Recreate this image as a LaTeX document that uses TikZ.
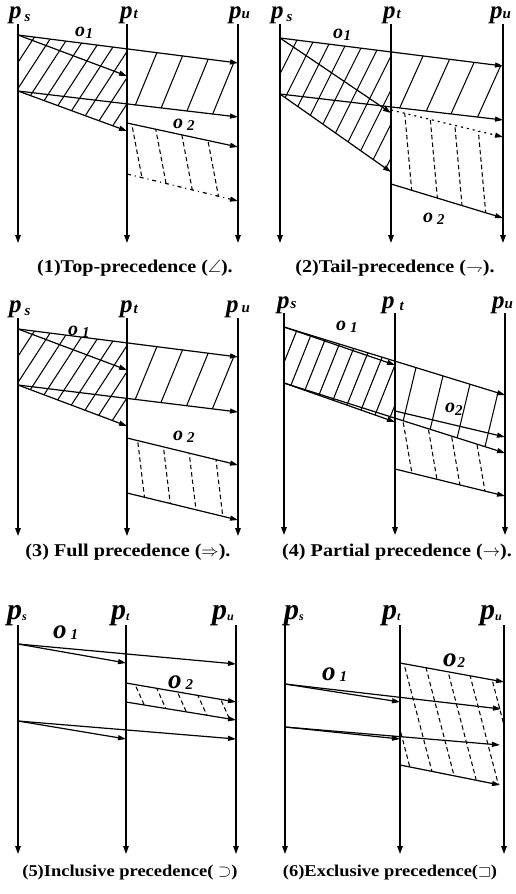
\documentclass[tikz,border=0pt]{standalone}
\usepackage{amssymb}
\usepackage{fontspec}
\setmainfont{Liberation Serif}
\newfontfamily\capfont[FakeStretch=1.12]{Liberation Serif}
\usetikzlibrary{arrows.meta}
\tikzset{
  proc/.style={line width=1.4pt,-{Triangle[length=8pt,width=5.5pt]}},
  msg/.style={line width=1.2pt,-{Triangle[length=8pt,width=5pt]}},
  hsolid/.style={line width=1.05pt},
  hdash/.style={line width=1.05pt,dash pattern=on 4.5pt off 3pt},
  dotmsg/.style={msg,dash pattern=on 2pt off 4pt},
  dashdotmsg/.style={msg,dash pattern=on 4pt off 4pt on 1pt off 4pt},
  lab/.style={inner sep=0pt,anchor=base west,font=\bfseries\itshape},
  capt/.style={inner sep=0pt,anchor=base,font=\capfont\bfseries\fontsize{18}{18}\selectfont},
  captb/.style={capt,font=\capfont\bfseries\fontsize{16.5}{16.5}\selectfont},
}
% p label: size, subscript, gap, drop
\newcommand\plab[4]{{\fontsize{#1}{#1}\selectfont p}\hspace{#3}\raisebox{#4}{\fontsize{15}{15}\selectfont #2}}
% o label: size, subscript, gap, drop
\newcommand\olab[4]{{\fontsize{#1}{#1}\selectfont o}\hspace{#3}\raisebox{#4}{\fontsize{15}{15}\selectfont #2}}
% hatch: clip path, ytop, ybot, dx per dy, list of x at ytop, style
\newcommand\hatch[6]{\begin{scope}\clip #1;\foreach \hx in {#5}{\draw[#6] (\hx,#2) -- ({\hx+(#4)*(#3-(#2))},#3);}\end{scope}}
\begin{document}
\begin{tikzpicture}[x=1pt,y=-1pt]
\useasboundingbox (0,0) rectangle (516,894);
% ================= Panel 1 =================
\coordinate (a-s0) at (18,24);  \coordinate (a-s1) at (18,243);
\coordinate (a-t0) at (127,24); \coordinate (a-t1) at (127,243);
\coordinate (a-u0) at (238,24); \coordinate (a-u1) at (238,243);
\coordinate (a-m1) at (18,35);   \coordinate (a-m1e) at (238,63);
\coordinate (a-m2e) at (127,76);
\coordinate (a-m3) at (18,91);   \coordinate (a-m3e) at (238,117);
\coordinate (a-m4e) at (127,131);
\coordinate (a-m5) at (127,123); \coordinate (a-m5e) at (238,147);
\coordinate (a-m6) at (127,174); \coordinate (a-m6e) at (238,201);
\hatch{(18,35)--(127,48.9)--(127,131)--(18,91)--cycle}{30}{135}{-0.65}{22,39,...,220}{hsolid}
\hatch{(127,48.9)--(238,63)--(238,117)--(127,104.4)--cycle}{45}{120}{-0.41}{160,187,214,241}{hsolid}
\hatch{(127,123)--(238,147)--(238,201)--(127,174)--cycle}{120}{205}{0.19}{131,154,179,204}{hdash}
\draw[proc] (a-s0) -- (a-s1);
\draw[proc] (a-t0) -- (a-t1);
\draw[proc] (a-u0) -- (a-u1);
\draw[msg] (a-m1) -- (a-m1e);
\draw[msg] (a-m1) -- (a-m2e);
\draw[msg] (a-m3) -- (a-m3e);
\draw[msg] (a-m3) -- (a-m4e);
\draw[msg] (a-m5) -- (a-m5e);
\draw[dashdotmsg] (a-m6) -- (a-m6e);
\node[lab] (a-ps) at (9,18) {\plab{25}{s}{3pt}{-3pt}};
\node[lab] (a-pt) at (120,18) {\plab{25}{t}{1pt}{-1pt}};
\node[lab] (a-pu) at (229,18) {\plab{25}{u}{0pt}{0pt}};
\node[lab] (a-o1) at (75,36) {\olab{20}{1}{0.5pt}{-2pt}};
\node[lab] (a-o2) at (173,128) {\olab{20}{2}{4pt}{-2pt}};
\node[capt] (a-cap) at (135,272) {(1)Top-precedence ($\angle$).};
% ================= Panel 2 =================
\coordinate (b-s0) at (280,24);  \coordinate (b-s1) at (280,243);
\coordinate (b-t0) at (391,24);  \coordinate (b-t1) at (391,243);
\coordinate (b-u0) at (503,24);  \coordinate (b-u1) at (503,243);
\coordinate (b-m1) at (280,38);  \coordinate (b-m1e) at (503,66);
\coordinate (b-m2e) at (391,113);
\coordinate (b-m3) at (280,94);  \coordinate (b-m3e) at (503,120);
\coordinate (b-m4e) at (391,172);
\coordinate (b-m5) at (391,110); \coordinate (b-m5e) at (503,137);
\coordinate (b-m6) at (391,184); \coordinate (b-m6e) at (503,218);
\hatch{(280,38)--(391,51.9)--(391,172)--(280,94)--cycle}{30}{180}{-0.5}{285,302,...,480}{hsolid}
\hatch{(391,51.9)--(503,66)--(503,120)--(391,107)--cycle}{45}{125}{-0.45}{428,456,482,510}{hsolid}
\hatch{(391,110)--(503,137)--(503,218)--(391,184)--cycle}{105}{225}{0.09}{404,429,453,476}{hdash}
\draw[proc] (b-s0) -- (b-s1);
\draw[proc] (b-t0) -- (b-t1);
\draw[proc] (b-u0) -- (b-u1);
\draw[msg] (b-m1) -- (b-m1e);
\draw[msg] (b-m1) -- (b-m2e);
\draw[msg] (b-m3) -- (b-m3e);
\draw[msg] (b-m3) -- (b-m4e);
\draw[dotmsg] (b-m5) -- (b-m5e);
\draw[msg] (b-m6) -- (b-m6e);
\node[lab] (b-ps) at (271,18) {\plab{25}{s}{3pt}{-3pt}};
\node[lab] (b-pt) at (383,18) {\plab{25}{t}{1pt}{-1pt}};
\node[lab] (b-pu) at (490,18) {\plab{25}{u}{0pt}{0pt}};
\node[lab] (b-o1) at (333,38) {\olab{20}{1}{0.5pt}{-2pt}};
\node[lab] (b-o2) at (423,222) {\olab{20}{2}{4pt}{-2pt}};
\node[capt] (b-cap) at (395,272) {(2)Tail-precedence ($\rightharpoondown$).};
% ================= Panel 3 =================
\coordinate (c-s0) at (18,318);  \coordinate (c-s1) at (18,536);
\coordinate (c-t0) at (127,318); \coordinate (c-t1) at (127,536);
\coordinate (c-u0) at (238,318); \coordinate (c-u1) at (238,536);
\coordinate (c-m1) at (18,329);  \coordinate (c-m1e) at (238,357);
\coordinate (c-m2e) at (127,370);
\coordinate (c-m3) at (18,385);  \coordinate (c-m3e) at (238,412);
\coordinate (c-m4e) at (127,426);
\coordinate (c-m5) at (127,438); \coordinate (c-m5e) at (238,465);
\coordinate (c-m6) at (127,493); \coordinate (c-m6e) at (238,520);
\hatch{(18,329)--(127,342.9)--(127,426)--(18,385)--cycle}{324}{429}{-0.65}{22,39,...,220}{hsolid}
\hatch{(127,342.9)--(238,357)--(238,412)--(127,398.4)--cycle}{339}{414}{-0.41}{160,187,214,241}{hsolid}
\hatch{(127,438)--(238,465)--(238,520)--(127,493)--cycle}{435}{525}{0.12}{137,162,187,213}{hdash}
\draw[proc] (c-s0) -- (c-s1);
\draw[proc] (c-t0) -- (c-t1);
\draw[proc] (c-u0) -- (c-u1);
\draw[msg] (c-m1) -- (c-m1e);
\draw[msg] (c-m1) -- (c-m2e);
\draw[msg] (c-m3) -- (c-m3e);
\draw[msg] (c-m3) -- (c-m4e);
\draw[msg] (c-m5) -- (c-m5e);
\draw[msg] (c-m6) -- (c-m6e);
\node[lab] (c-ps) at (9,312) {\plab{25}{s}{3pt}{-3pt}};
\node[lab] (c-pt) at (120,312) {\plab{25}{t}{1pt}{-1pt}};
\node[lab] (c-pu) at (226,312) {\plab{25}{u}{3pt}{0pt}};
\node[lab] (c-o1) at (68,335) {\olab{20}{1}{4pt}{-2pt}};
\node[lab] (c-o2) at (173,440) {\olab{20}{2}{4pt}{-2pt}};
\node[capt] (c-cap) at (128,556) {(3) Full precedence ($\Rightarrow$).};
% ================= Panel 4 =================
\coordinate (d-s0) at (284,313); \coordinate (d-s1) at (284,535);
\coordinate (d-t0) at (395,313); \coordinate (d-t1) at (395,535);
\coordinate (d-u0) at (505,313); \coordinate (d-u1) at (505,535);
\coordinate (d-m1) at (284,327); \coordinate (d-m1e) at (505,395);
\coordinate (d-m2e) at (395,365);
\coordinate (d-m3) at (284,383); \coordinate (d-m3e) at (505,453);
\coordinate (d-m4e) at (395,422);
\coordinate (d-m5) at (395,411); \coordinate (d-m5e) at (505,437);
\coordinate (d-m6) at (395,469); \coordinate (d-m6e) at (505,496);
\hatch{(284,327)--(395,361.2)--(395,422)--(284,383)--cycle}{320}{430}{-0.4}{285,301,...,460}{hsolid}
\hatch{(395,361.2)--(505,395)--(505,453)--(395,417.8)--cycle}{355}{460}{-0.24}{419,448,477,507}{hsolid}
\hatch{(395,417.8)--(505,453)--(505,496)--(395,469)--cycle}{415}{500}{0.17}{402,426,448,472}{hdash}
\draw[proc] (d-s0) -- (d-s1);
\draw[proc] (d-t0) -- (d-t1);
\draw[proc] (d-u0) -- (d-u1);
\draw[msg] (d-m1) -- (d-m1e);
\draw[msg] (d-m1) -- (d-m2e);
\draw[msg] (d-m3) -- (d-m3e);
\draw[msg] (d-m3) -- (d-m4e);
\draw[msg] (d-m5) -- (d-m5e);
\draw[msg] (d-m6) -- (d-m6e);
\node[lab] (d-ps) at (277,308) {\plab{25}{s}{1pt}{0pt}};
\node[lab] (d-pt) at (382,308) {\plab{25}{t}{5pt}{-2pt}};
\node[lab] (d-pu) at (492,308) {\plab{25}{u}{0pt}{0pt}};
\node[lab] (d-o1) at (336,330) {\olab{20}{1}{4pt}{-2pt}};
\node[lab] (d-o2) at (445,412) {\olab{20}{2}{0pt}{-3pt}};
\node[capt] (d-cap) at (397,556) {(4) Partial precedence ($\rightarrow$).};
% ================= Panel 5 =================
\coordinate (e-s0) at (18,625);  \coordinate (e-s1) at (18,854);
\coordinate (e-t0) at (126,625); \coordinate (e-t1) at (126,854);
\coordinate (e-u0) at (236,625); \coordinate (e-u1) at (236,854);
\coordinate (e-m1) at (18,644);  \coordinate (e-m1e) at (236,664);
\coordinate (e-m2e) at (126,663);
\coordinate (e-m3) at (18,721);  \coordinate (e-m3e) at (236,739);
\coordinate (e-m4e) at (126,739);
\coordinate (e-m5) at (126,683); \coordinate (e-m5e) at (236,702);
\coordinate (e-m6) at (126,702); \coordinate (e-m6e) at (236,720);
\hatch{(126,683)--(236,702)--(236,720)--(126,702)--cycle}{680}{725}{0.45}{133,153,172,191,212}{hdash}
\draw[proc] (e-s0) -- (e-s1);
\draw[proc] (e-t0) -- (e-t1);
\draw[proc] (e-u0) -- (e-u1);
\draw[msg] (e-m1) -- (e-m1e);
\draw[msg] (e-m1) -- (e-m2e);
\draw[msg] (e-m3) -- (e-m3e);
\draw[msg] (e-m3) -- (e-m4e);
\draw[msg] (e-m5) -- (e-m5e);
\draw[msg] (e-m6) -- (e-m6e);
\node[lab] (e-ps) at (7,619) {\plab{30}{\fontsize{12}{12}\selectfont s}{0pt}{-1pt}};
\node[lab] (e-pt) at (111,619) {\plab{30}{\fontsize{12}{12}\selectfont t}{0pt}{-1pt}};
\node[lab] (e-pu) at (212,619) {\plab{30}{\fontsize{12}{12}\selectfont u}{0pt}{-1pt}};
\node[lab] (e-o1) at (53,638) {\olab{27}{1}{4pt}{-1pt}};
\node[lab] (e-o2) at (168,688) {\olab{27}{2}{4pt}{-1pt}};
\node[captb] (e-cap) at (130,876) {(5)Inclusive precedence( $\supset$)};
% ================= Panel 6 =================
\coordinate (f-s0) at (285,625); \coordinate (f-s1) at (285,854);
\coordinate (f-t0) at (400,625); \coordinate (f-t1) at (400,854);
\coordinate (f-u0) at (504,625); \coordinate (f-u1) at (504,854);
\coordinate (f-m1) at (285,684); \coordinate (f-m1e) at (501,709);
\coordinate (f-m2e) at (400,702);
\coordinate (f-m3) at (285,727); \coordinate (f-m3e) at (500,745);
\coordinate (f-m4e) at (400,739);
\coordinate (f-m5) at (400,663); \coordinate (f-m5e) at (504,682);
\coordinate (f-m6) at (400,765); \coordinate (f-m6e) at (500,785);
\hatch{(400,663)--(504,682)--(504,785)--(400,765)--cycle}{660}{790}{0.26}{382,403,424,445,466,487,508}{hdash}
\draw[proc] (f-s0) -- (f-s1);
\draw[proc] (f-t0) -- (f-t1);
\draw[proc] (f-u0) -- (f-u1);
\draw[msg] (f-m1) -- (f-m1e);
\draw[msg] (f-m1) -- (f-m2e);
\draw[msg] (f-m3) -- (f-m3e);
\draw[msg] (f-m3) -- (f-m4e);
\draw[msg] (f-m5) -- (f-m5e);
\draw[msg] (f-m6) -- (f-m6e);
\node[lab] (f-ps) at (284,619) {\plab{30}{\fontsize{12}{12}\selectfont s}{0pt}{-1pt}};
\node[lab] (f-pt) at (382,619) {\plab{30}{\fontsize{12}{12}\selectfont t}{0pt}{-1pt}};
\node[lab] (f-pu) at (480,619) {\plab{30}{\fontsize{12}{12}\selectfont u}{0pt}{-1pt}};
\node[lab] (f-o1) at (322,680) {\olab{27}{1}{4pt}{-1pt}};
\node[lab] (f-o2) at (443,666) {\olab{27}{2}{1pt}{-1pt}};
\node[captb] (f-cap) at (390,876) {(6)Exclusive precedence($\sqsupset$)};
\end{tikzpicture}
\end{document}
